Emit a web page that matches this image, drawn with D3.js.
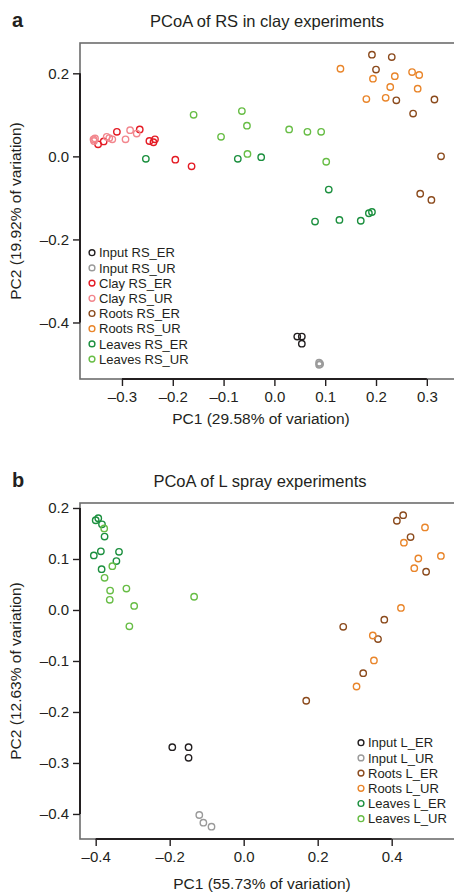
<!DOCTYPE html>
<html>
<head>
<meta charset="utf-8">
<script src="https://cdn.jsdelivr.net/npm/d3@7"></script>
<style>
  html, body { margin: 0; padding: 0; background: #fff; }
  svg { display: block; font-family: "Liberation Sans", Arial, Helvetica, sans-serif; }
</style>
</head>
<body>
<svg id="fig" width="454" height="894"></svg>
<script>
// ---- Panel a: PCoA of RS in clay experiments (PC1, PC2) ----
const rsNames  = ["Input RS_ER", "Input RS_UR", "Clay RS_ER", "Clay RS_UR",
                  "Roots RS_ER", "Roots RS_UR", "Leaves RS_ER", "Leaves RS_UR"];
const rsColors = ["#231f20", "#9a9a9a", "#e41a23", "#f2868d",
                  "#8b4a1c", "#e9852a", "#1b8f3e", "#67bd45"];

const rsInputER  = [[0.045, -0.434], [0.054, -0.434], [0.054, -0.451]];
const rsInputUR  = [[0.088, -0.497], [0.088, -0.502], [0.090, -0.500]];
const rsClayER   = [[-0.347, 0.029], [-0.336, 0.036], [-0.310, 0.059], [-0.265, 0.065],
                    [-0.246, 0.037], [-0.238, 0.034], [-0.235, 0.041], [-0.195, -0.008],
                    [-0.163, -0.024]];
const rsClayUR   = [[-0.356, 0.041], [-0.353, 0.043], [-0.355, 0.037], [-0.330, 0.047],
                    [-0.325, 0.044], [-0.319, 0.041], [-0.293, 0.041], [-0.284, 0.063],
                    [-0.271, 0.055]];
const rsRootsER  = [[0.192, 0.245], [0.231, 0.239], [0.200, 0.209], [0.240, 0.135],
                    [0.315, 0.137], [0.273, 0.103], [0.328, 0.000], [0.287, -0.090],
                    [0.309, -0.105]];
const rsRootsUR  = [[0.130, 0.211], [0.194, 0.187], [0.237, 0.193], [0.271, 0.203],
                    [0.285, 0.196], [0.228, 0.167], [0.282, 0.163], [0.181, 0.138],
                    [0.219, 0.141]];
const rsLeavesER = [[-0.253, -0.006], [-0.072, -0.006], [-0.026, -0.002], [0.107, -0.080],
                    [0.080, -0.157], [0.128, -0.153], [0.170, -0.155], [0.186, -0.137],
                    [0.192, -0.134]];
const rsLeavesUR = [[-0.159, 0.100], [-0.105, 0.047], [-0.064, 0.109], [-0.054, 0.074],
                    [-0.053, 0.006], [0.029, 0.065], [0.065, 0.059], [0.092, 0.059],
                    [0.102, -0.013]];
const rsSeries = [rsInputER, rsInputUR, rsClayER, rsClayUR,
                  rsRootsER, rsRootsUR, rsLeavesER, rsLeavesUR];
const rsXTicks = [-0.3, -0.2, -0.1, 0.0, 0.1, 0.2, 0.3];
const rsYTicks = [-0.4, -0.2, 0.0, 0.2];

// ---- Panel b: PCoA of L spray experiments (PC1, PC2) ----
const lNames  = ["Input L_ER", "Input L_UR", "Roots L_ER", "Roots L_UR",
                 "Leaves L_ER", "Leaves L_UR"];
const lColors = ["#231f20", "#9a9a9a", "#8b4a1c", "#e9852a", "#1b8f3e", "#67bd45"];

const lInputER  = [[-0.193, -0.269], [-0.149, -0.269], [-0.149, -0.290]];
const lInputUR  = [[-0.120, -0.402], [-0.109, -0.417], [-0.087, -0.425]];
const lRootsER  = [[0.431, 0.186], [0.414, 0.175], [0.451, 0.143], [0.493, 0.075],
                   [0.380, -0.019], [0.269, -0.033], [0.363, -0.057], [0.323, -0.124],
                   [0.169, -0.178]];
const lRootsUR  = [[0.490, 0.162], [0.433, 0.132], [0.533, 0.106], [0.472, 0.101],
                   [0.461, 0.082], [0.425, 0.004], [0.349, -0.050], [0.352, -0.099],
                   [0.305, -0.150]];
const lLeavesER = [[-0.400, 0.176], [-0.393, 0.180], [-0.383, 0.168], [-0.376, 0.144],
                   [-0.405, 0.107], [-0.386, 0.115], [-0.337, 0.114], [-0.344, 0.096],
                   [-0.384, 0.080]];
const lLeavesUR = [[-0.377, 0.160], [-0.355, 0.086], [-0.376, 0.063], [-0.361, 0.038],
                   [-0.362, 0.020], [-0.317, 0.042], [-0.296, 0.008], [-0.309, -0.032],
                   [-0.134, 0.026]];
const lSeries = [lInputER, lInputUR, lRootsER, lRootsUR, lLeavesER, lLeavesUR];
const lXTicks = [-0.4, -0.2, 0.0, 0.2, 0.4];
const lYTicks = [-0.4, -0.3, -0.2, -0.1, 0.0, 0.1, 0.2];

const svg = d3.select("#fig");
const ink = "#231f20";
const fmt = d => (d < 0 ? "\u2013" : "") + Math.abs(d).toFixed(1);

function panel(cfg) {
  const g = svg.append("g");
  const x = d3.scaleLinear().domain(cfg.xDomain).range([cfg.left, cfg.right]);
  const y = d3.scaleLinear().domain(cfg.yDomain).range([cfg.bottom, cfg.top]);

  // panel letter and title
  g.append("text").attr("x", 12).attr("y", cfg.titleY)
    .attr("font-size", 20).attr("font-weight", "bold").attr("fill", ink).text(cfg.letter);
  g.append("text").attr("x", cfg.titleX).attr("y", cfg.titleY)
    .attr("text-anchor", "middle").attr("font-size", 16.5).attr("fill", ink).text(cfg.title);

  // plot frame (grey), right side runs past the page edge
  g.append("rect")
    .attr("x", cfg.left).attr("y", cfg.top)
    .attr("width", cfg.right - cfg.left + 10).attr("height", cfg.bottom - cfg.top)
    .attr("fill", "none").attr("stroke", "#6d6d6d").attr("stroke-width", 1.6);

  // axes: black line only between the outer ticks
  const xAxis = d3.axisBottom(x).tickValues(cfg.xTicks).tickFormat(fmt)
    .tickSize(7).tickPadding(5);
  const gx = g.append("g").attr("transform", `translate(0,${cfg.bottom})`).call(xAxis);
  const yAxis = d3.axisLeft(y).tickValues(cfg.yTicks).tickFormat(fmt)
    .tickSize(7).tickPadding(4);
  const gy = g.append("g").attr("transform", `translate(${cfg.left},0)`).call(yAxis);
  [gx, gy].forEach(a => {
    a.select(".domain").remove();
    a.selectAll(".tick line").attr("stroke", ink).attr("stroke-width", 1.4);
    a.selectAll(".tick text").attr("fill", ink).attr("font-size", 15)
      .attr("font-family", "Liberation Sans, Arial, sans-serif");
  });
  const xt = d3.extent(cfg.xTicks), yt = d3.extent(cfg.yTicks);
  g.append("line").attr("x1", x(xt[0])).attr("x2", x(xt[1]))
    .attr("y1", cfg.bottom).attr("y2", cfg.bottom)
    .attr("stroke", ink).attr("stroke-width", 2);
  g.append("line").attr("x1", cfg.left).attr("x2", cfg.left)
    .attr("y1", y(yt[0])).attr("y2", y(yt[1]))
    .attr("stroke", ink).attr("stroke-width", 2);

  // axis titles
  g.append("text").attr("x", cfg.xTitleX).attr("y", cfg.xTitleY)
    .attr("text-anchor", "middle").attr("font-size", 15.5).attr("fill", ink).text(cfg.xTitle);
  g.append("text")
    .attr("transform", `translate(16,${(cfg.top + cfg.bottom) / 2}) rotate(-90)`)
    .attr("text-anchor", "middle").attr("dy", "0.35em")
    .attr("font-size", 15.5).attr("fill", ink).text(cfg.yTitle);

  // points
  cfg.series.forEach((pts, i) => {
    g.append("g").selectAll("circle").data(pts).join("circle")
      .attr("cx", d => x(d[0])).attr("cy", d => y(d[1])).attr("r", 3.2)
      .attr("fill", "none").attr("stroke", cfg.colors[i]).attr("stroke-width", 1.4);
  });

  // legend
  const lg = g.append("g").attr("transform", `translate(${cfg.legendX},${cfg.legendY})`);
  const rows = lg.selectAll("g").data(cfg.names).join("g")
    .attr("transform", (d, i) => `translate(0,${i * 15.2})`);
  rows.append("circle").attr("r", 2.9).attr("fill", "none")
    .attr("stroke", (d, i) => cfg.colors[i]).attr("stroke-width", 1.4);
  rows.append("text").attr("x", 7).attr("dy", "0.36em")
    .attr("font-size", 13).attr("fill", ink).text(d => d);
}

panel({
  letter: "a", title: "PCoA of RS in clay experiments", titleX: 267, titleY: 27,
  left: 80, right: 454, top: 43, bottom: 379,
  xDomain: [-0.3826, 0.3535], yDomain: [-0.5361, 0.2730],
  xTicks: rsXTicks, yTicks: rsYTicks,
  xTitle: "PC1 (29.58% of variation)", xTitleX: 261, xTitleY: 424,
  yTitle: "PC2 (19.92% of variation)",
  series: rsSeries, colors: rsColors, names: rsNames,
  legendX: 92, legendY: 252.7
});

panel({
  letter: "b", title: "PCoA of L spray experiments", titleX: 260, titleY: 487,
  left: 80, right: 454, top: 503, bottom: 839,
  xDomain: [-0.4424, 0.5684], yDomain: [-0.4491, 0.2098],
  xTicks: lXTicks, yTicks: lYTicks,
  xTitle: "PC1 (55.73% of variation)", xTitleX: 262, xTitleY: 889,
  yTitle: "PC2 (12.63% of variation)",
  series: lSeries, colors: lColors, names: lNames,
  legendX: 361, legendY: 742.7
});
</script>
</body>
</html>
